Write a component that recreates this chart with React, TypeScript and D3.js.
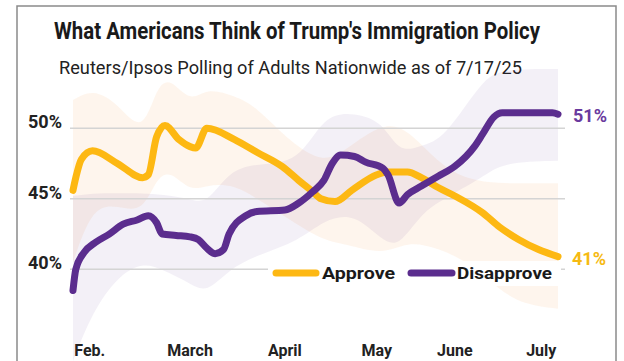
import React from "react";
import * as d3 from "d3";

const approveDates = ["2025-01-24","2025-01-25","2025-01-27","2025-01-31","2025-02-09","2025-02-18","2025-02-20","2025-02-23","2025-02-26","2025-03-03","2025-03-07","2025-03-09","2025-03-13","2025-03-23","2025-03-31","2025-04-09","2025-04-15","2025-04-20","2025-04-23","2025-04-28","2025-05-04","2025-05-13","2025-05-17","2025-05-24","2025-05-29","2025-06-04","2025-06-10","2025-06-20","2025-06-26","2025-07-03","2025-07-10","2025-07-17"];
const approveValues = [45.6,46.5,47.8,48.4,47.5,46.5,46.7,49.4,50.2,49.2,48.7,48.6,50.0,49.2,48.3,47.3,46.3,45.5,45.0,44.8,45.6,46.7,46.9,46.9,46.5,45.8,45.2,44.0,43.0,42.1,41.4,40.9];

const disapproveDates = ["2025-01-24","2025-01-25","2025-01-28","2025-02-01","2025-02-06","2025-02-11","2025-02-16","2025-02-20","2025-02-23","2025-02-25","2025-03-02","2025-03-07","2025-03-10","2025-03-13","2025-03-16","2025-03-19","2025-03-21","2025-03-27","2025-03-31","2025-04-10","2025-04-15","2025-04-20","2025-04-24","2025-04-27","2025-04-30","2025-05-05","2025-05-09","2025-05-15","2025-05-17","2025-05-21","2025-05-24","2025-05-29","2025-06-04","2025-06-10","2025-06-17","2025-06-20","2025-06-24","2025-06-27","2025-07-15","2025-07-17"];
const disapproveValues = [38.5,40.0,41.2,41.9,42.5,43.2,43.5,43.8,43.3,42.5,42.4,42.3,42.1,41.5,41.1,41.4,42.5,43.8,44.1,44.2,44.7,45.5,46.3,47.5,48.1,48.0,47.6,47.2,46.7,44.7,45.3,45.9,46.6,47.3,48.7,49.6,50.8,51.1,51.1,51.0];

const approveBandDates = ["2025-01-24","2025-01-31","2025-02-09","2025-02-18","2025-02-23","2025-02-28","2025-03-07","2025-03-13","2025-03-23","2025-03-31","2025-04-12","2025-04-24","2025-05-02","2025-05-15","2025-05-24","2025-06-04","2025-06-15","2025-06-26","2025-07-05","2025-07-17"];
const approveBandLow = [40.5,44.5,44.5,44.0,46.5,47.0,45.5,46.0,46.0,45.0,43.5,42.0,41.8,41.0,42.0,41.5,40.5,38.5,37.5,37.2];
const approveBandHigh = [52.0,52.8,51.8,49.5,53.0,53.6,51.8,52.9,52.3,51.5,49.0,47.5,48.5,50.4,50.0,47.5,46.3,46.1,46.1,46.1];

const disapproveBandDates = ["2025-01-24","2025-01-31","2025-02-09","2025-02-18","2025-02-25","2025-03-07","2025-03-13","2025-03-21","2025-03-31","2025-04-15","2025-04-24","2025-05-05","2025-05-15","2025-05-21","2025-05-29","2025-06-06","2025-06-20","2025-06-27","2025-07-17"];
const disapproveBandLow = [33.5,37.0,39.5,40.5,40.0,39.0,38.3,40.0,41.0,42.0,43.5,44.0,42.0,41.6,44.0,45.0,46.5,47.6,47.7];
const disapproveBandHigh = [45.2,45.4,45.4,45.4,45.3,45.0,44.6,47.0,47.5,47.5,51.0,51.1,50.5,48.2,48.8,49.2,53.5,54.2,54.2];

const monthLabels = ["Feb.","March","April","May","June","July"];
const monthLabelDates = ["2025-01-30","2025-03-07","2025-04-10","2025-05-13","2025-06-10","2025-07-11"];
const yTicks = [40, 45, 50];

const YELLOW = "#FDB813";
const PURPLE = "#5B2D8E";

const parse = d3.timeParse("%Y-%m-%d");

export default function App() {
  const x = d3.scaleTime()
    .domain([parse("2025-01-24")!, parse("2025-07-17")!])
    .range([73, 558]);
  const y = d3.scaleLinear().domain([40, 50]).range([269.3, 128.3]);

  const lineGen = d3.line<[Date, number]>()
    .x(d => x(d[0]))
    .y(d => y(d[1]))
    .curve(d3.curveMonotoneX);

  const areaGen = d3.area<[Date, number, number]>()
    .x(d => x(d[0]))
    .y0(d => y(d[1]))
    .y1(d => y(d[2]))
    .curve(d3.curveBasis);

  const approve = approveDates.map((d, i) => [parse(d)!, approveValues[i]] as [Date, number]);
  const disapprove = disapproveDates.map((d, i) => [parse(d)!, disapproveValues[i]] as [Date, number]);
  const aBand = approveBandDates.map((d, i) => [parse(d)!, approveBandLow[i], approveBandHigh[i]] as [Date, number, number]);
  const dBand = disapproveBandDates.map((d, i) => [parse(d)!, disapproveBandLow[i], disapproveBandHigh[i]] as [Date, number, number]);

  const lastA = approve[approve.length - 1];
  const lastD = disapprove[disapprove.length - 1];

  return (
    <svg width={624} height={361} style={{ position: "absolute", left: 0, top: 0, background: "#fff" }}
      fontFamily="Roboto, 'Liberation Sans', sans-serif">
      <rect x={0} y={0} width={624} height={361} fill="#fff" />
      <rect x={17} y={6} width={599} height={370} fill="none" stroke="#8a8a8a" strokeWidth={1.5} />
      <text x={54} y={39} fontSize={23} fontWeight="bold" fill="#1a1a1a" textLength={486} lengthAdjust="spacingAndGlyphs">
        What Americans Think of Trump's Immigration Policy
      </text>
      <text x={59} y={74} fontSize={19} fill="#222" textLength={463} lengthAdjust="spacingAndGlyphs">
        Reuters/Ipsos Polling of Adults Nationwide as of 7/17/25
      </text>

      <path d={areaGen(aBand) || ""} fill="#F5A04A" fillOpacity={0.1} />
      <path d={areaGen(dBand) || ""} fill="#5B2D8E" fillOpacity={0.07} />

      {yTicks.map(t => (
        <g key={t}>
          <line x1={70} x2={565} y1={y(t)} y2={y(t)} stroke="#d4d4d4" strokeWidth={1.5} />
          <text x={62} y={y(t)} textAnchor="end" fontSize={18} fontWeight="bold" fill="#222">{t}%</text>
        </g>
      ))}

      {monthLabels.map((m, i) => (
        <text key={m} x={x(parse(monthLabelDates[i])!)} y={356} textAnchor="middle" fontSize={16} fontWeight="bold" fill="#222">{m}</text>
      ))}

      <rect x={268} y={261} width={293} height={25} fill="#fff" />
      <line x1={276} x2={316} y1={273} y2={273} stroke={YELLOW} strokeWidth={7} strokeLinecap="round" />
      <text x={322} y={279} fontSize={16} fontWeight="bold" fill="#1a1a1a" textLength={73} lengthAdjust="spacingAndGlyphs">Approve</text>
      <line x1={411} x2={452} y1={273} y2={273} stroke={PURPLE} strokeWidth={7} strokeLinecap="round" />
      <text x={457} y={279} fontSize={16} fontWeight="bold" fill="#1a1a1a" textLength={95} lengthAdjust="spacingAndGlyphs">Disapprove</text>

      <path d={lineGen(approve) || ""} fill="none" stroke={YELLOW} strokeWidth={7} strokeLinecap="round" strokeLinejoin="round" />
      <path d={lineGen(disapprove) || ""} fill="none" stroke={PURPLE} strokeWidth={7} strokeLinecap="round" strokeLinejoin="round" />

      <text x={573} y={y(lastD[1]) + 8} fontSize={18} fontWeight="bold" fill="#6A3A9E">{Math.round(lastD[1])}%</text>
      <text x={572} y={y(lastA[1]) + 8} fontSize={18} fontWeight="bold" fill="#F6BA12">{Math.round(lastA[1])}%</text>
    </svg>
  );
}
